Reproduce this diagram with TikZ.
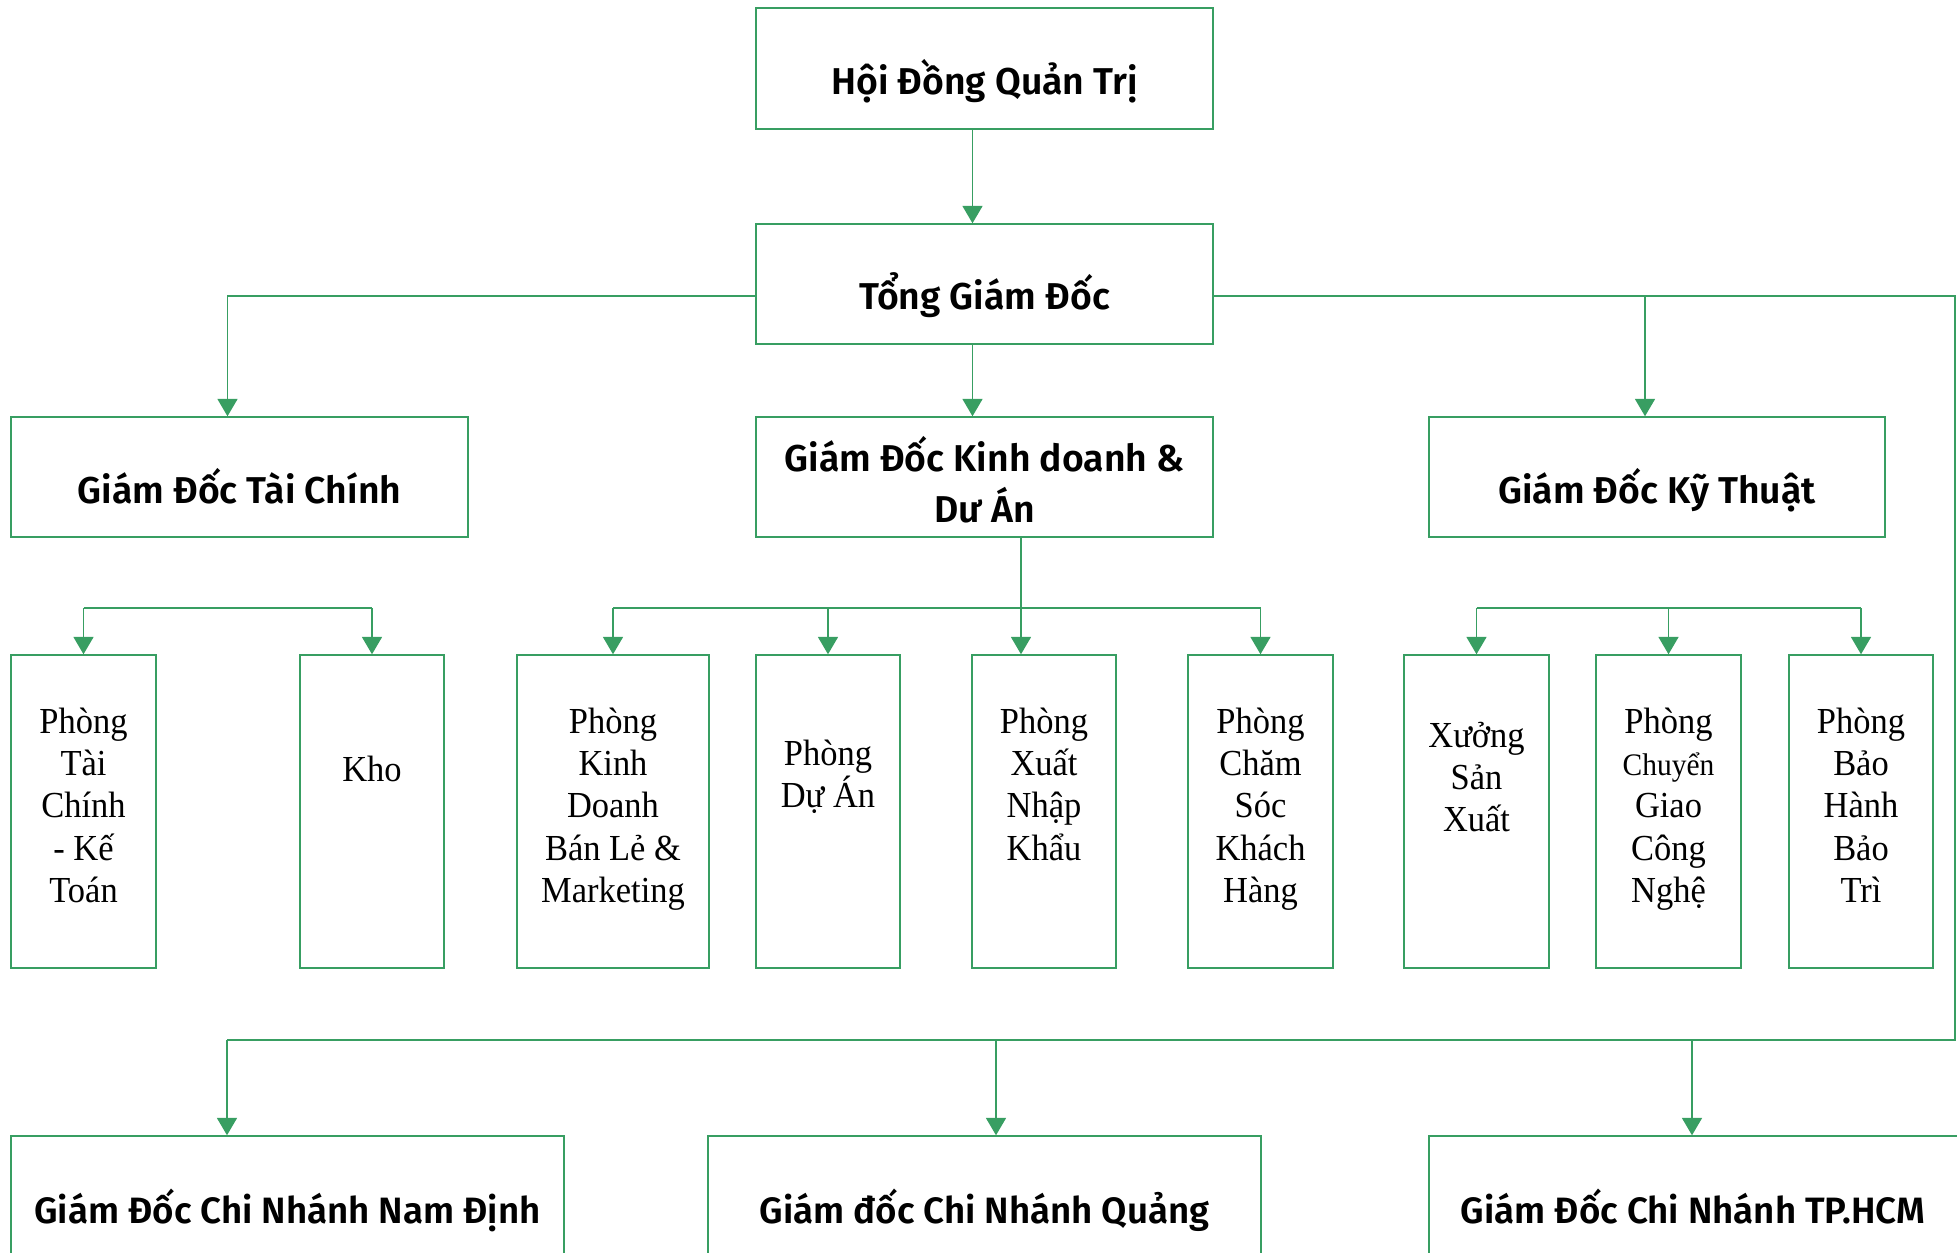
\documentclass[tikz,border=0pt]{standalone}
\usepackage{fontspec}
\setmainfont{Liberation Serif}[FakeStretch=0.94]
\newfontfamily\hdrfont{Fira Sans SemiBold}
\usetikzlibrary{arrows.meta,fit}
\definecolor{gline}{RGB}{56,158,98}
\newcommand\vstack[2][31.8pt]{\vtop{\baselineskip=#1\relax\lineskiplimit=-100pt\halign{\hfil##\hfil\cr#2\crcr}}}
\tikzset{
  box/.style={draw=gline, line width=1.1pt, inner sep=0pt},
  conn/.style={draw=gline, line width=1pt},
  arr/.style={conn, -{Triangle[width=15pt,length=13pt]}},
  hdr/.style={font=\hdrfont\fontsize{28}{38}\selectfont, anchor=base, inner sep=0pt},
  btm/.style={font=\hdrfont\fontsize{27.5}{38}\selectfont, anchor=base, inner sep=0pt},
  dept/.style={font=\fontsize{27.5}{32}\selectfont, anchor=base, inner sep=0pt},
}
\begin{document}
\begin{tikzpicture}[x=0.75pt,y=-0.75pt]
\useasboundingbox (0,0) rectangle (1957,1253);
% boxes
\node[box, fit={(756,8) (1213,129)}] (hdqt) {};
\node[box, fit={(756,224) (1213,344)}] (tgd) {};
\node[box, fit={(11,417) (468,537)}] (gdtc) {};
\node[box, fit={(756,417) (1213,537)}] (gdkd) {};
\node[box, fit={(1429,417) (1885,537)}] (gdkt) {};
\node[box, fit={(11,655) (156,968)}] (ptc) {};
\node[box, fit={(300,655) (444,968)}] (kho) {};
\node[box, fit={(517,655) (709,968)}] (pkd) {};
\node[box, fit={(756,655) (900,968)}] (pda) {};
\node[box, fit={(972,655) (1116,968)}] (pxnk) {};
\node[box, fit={(1188,655) (1333,968)}] (pcs) {};
\node[box, fit={(1404,655) (1549,968)}] (xsx) {};
\node[box, fit={(1596,655) (1741,968)}] (pcg) {};
\node[box, fit={(1789,655) (1933,968)}] (pbh) {};
\node[box, fit={(11,1136) (564,1275)}] (bnd) {};
\node[box, fit={(708,1136) (1261,1275)}] (bqn) {};
\node[box, fit={(1429,1136) (1965,1275)}] (bhcm) {};
% texts
\node[hdr] (thdqt) at (984.5,94) {Hội Đồng Quản Trị};
\node[hdr] (ttgd) at (984.5,309) {Tổng Giám Đốc};
\node[hdr] (tgdtc) at (239.5,503) {Giám Đốc Tài Chính};
\node[hdr] (tgdkd) at (984.5,471) {\vstack[38.25pt]{Giám Đốc Kinh doanh \&\cr Dư Án}};
\node[hdr] (tgdkt) at (1657,503) {Giám Đốc Kỹ Thuật};
\node[dept] (tptc) at (83.5,733) {\vstack{Phòng\cr Tài\cr Chính\cr - Kế\cr Toán}};
\node[dept] (tkho) at (372,781) {Kho};
\node[dept] (tpkd) at (613,733) {\vstack{Phòng\cr Kinh\cr Doanh\cr Bán Lẻ \&\cr Marketing}};
\node[dept] (tpda) at (828,765) {\vstack{Phòng\cr Dự Án}};
\node[dept] (tpxnk) at (1044,733) {\vstack{Phòng\cr Xuất\cr Nhập\cr Khẩu}};
\node[dept] (tpcs) at (1260.5,733) {\vstack{Phòng\cr Chăm\cr Sóc\cr Khách\cr Hàng}};
\node[dept] (txsx) at (1476.5,747) {\vstack{Xưởng\cr Sản\cr Xuất}};
\node[dept] (tpcg) at (1668.5,733) {\vstack{Phòng\cr {\fontsize{23.5}{28}\selectfont Chuyển}\cr Giao\cr Công\cr Nghệ}};
\node[dept] (tpbh) at (1861,733) {\vstack{Phòng\cr Bảo\cr Hành\cr Bảo\cr Trì}};
\node[btm] (tbnd) at (287.5,1223) {Giám Đốc Chi Nhánh Nam Định};
\node[btm] (tbqn) at (984.5,1223) {Giám đốc Chi Nhánh Quảng};
\node[btm] (tbhcm) at (1693,1223) {Giám Đốc Chi Nhánh TP.HCM};
% coordinates
\coordinate (bar) at (0,608);
\coordinate (kdx) at (1021,0);
\coordinate (rbot) at (1955,1040);
\coordinate (lbot) at (227,1040);
\coordinate (mbot) at (996,1040);
\coordinate (hbot) at (1692,1040);
% connectors
\draw[arr] ([xshift=-9pt]hdqt.south) -- ([xshift=-9pt]tgd.north);
\draw[arr] ([xshift=-9pt]tgd.south) -- ([xshift=-9pt]gdkd.north);
\draw[arr] ([yshift=-9pt]tgd.west) -| ([xshift=-9pt]gdtc.north);
\draw[arr] ([yshift=-9pt]tgd.east) -| ([xshift=-9pt]gdkt.north);
\draw[conn] ([yshift=-9pt]tgd.east) -| (rbot) -- (lbot);
\draw[arr] (lbot) -- (lbot |- bnd.north);
\draw[arr] (mbot) -- (mbot |- bqn.north);
\draw[arr] (hbot) -- (hbot |- bhcm.north);
% finance
\draw[conn] (ptc.north |- bar) -- (kho.north |- bar);
\draw[arr] (ptc.north |- bar) -- (ptc.north);
\draw[arr] (kho.north |- bar) -- (kho.north);
% business
\draw[conn] (kdx |- gdkd.south) -- (kdx |- bar);
\draw[conn] (pkd.north |- bar) -- (pcs.north |- bar);
\draw[arr] (pkd.north |- bar) -- (pkd.north);
\draw[arr] (pda.north |- bar) -- (pda.north);
\draw[arr] (kdx |- bar) -- (kdx |- pxnk.north);
\draw[arr] (pcs.north |- bar) -- (pcs.north);
% technical
\draw[conn] (xsx.north |- bar) -- (pbh.north |- bar);
\draw[arr] (xsx.north |- bar) -- (xsx.north);
\draw[arr] (pcg.north |- bar) -- (pcg.north);
\draw[arr] (pbh.north |- bar) -- (pbh.north);
\end{tikzpicture}
\end{document}
